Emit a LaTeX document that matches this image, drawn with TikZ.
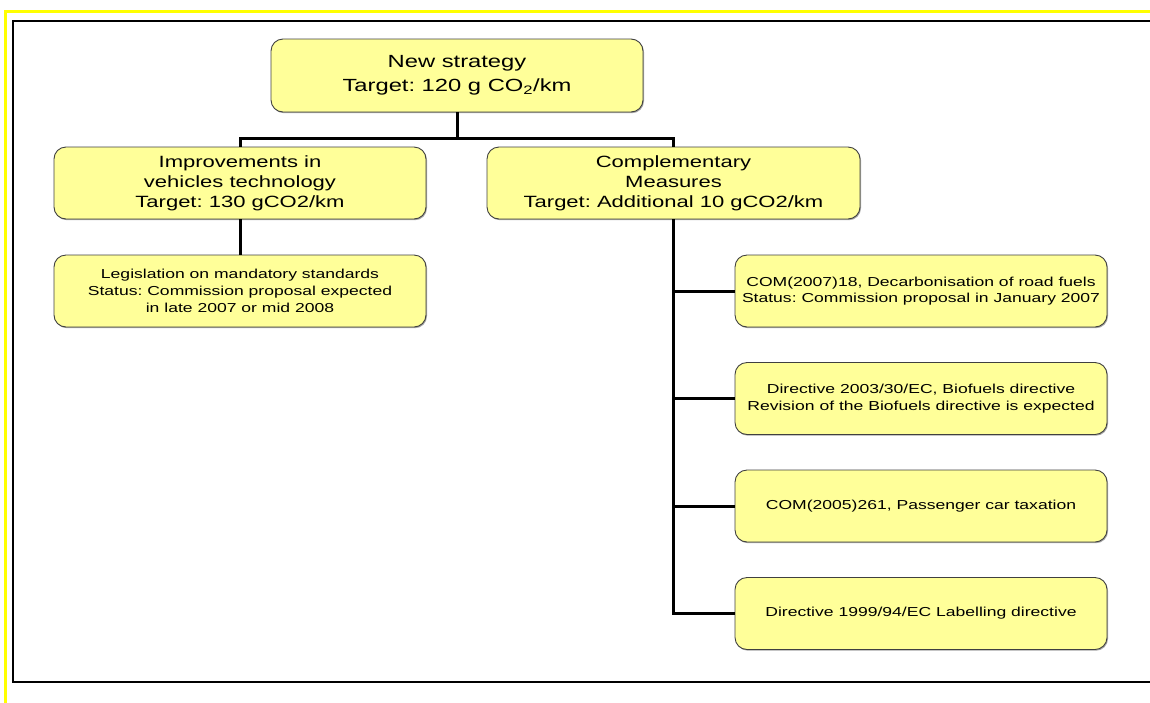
\documentclass[tikz,border=0pt]{standalone}
\usepackage{fontspec}
\setmainfont[FakeStretch=1.35]{Liberation Sans}
\usetikzlibrary{shadows}
\frenchspacing
\definecolor{boxfill}{HTML}{FFFF99}
\definecolor{boxline}{HTML}{404040}
\definecolor{frameyellow}{HTML}{FFFF00}
\tikzset{
  ybox/.style={draw=boxline, line width=0.9pt, fill=boxfill, rounded corners=12pt,
    minimum width=372pt, minimum height=72pt, align=center, inner sep=2pt,
    drop shadow={shadow xshift=1pt, shadow yshift=-1.2pt, fill=black, opacity=0.35}},
  bigtxt/.style={font=\fontsize{17.6}{23.5}\selectfont},
  midtxt/.style={font=\fontsize{16.3}{20}\selectfont},
  smalltxt/.style={font=\fontsize{13}{16.7}\selectfont},
  conn/.style={draw=black, line width=3pt},
}
\begin{document}
\begin{tikzpicture}[x=1pt,y=1pt]
\useasboundingbox (0,0) rectangle (1150,-702);
% outer frames
\draw[frameyellow, line width=3pt] (1152,-11.5) -- (5.5,-11.5) -- (5.5,-704);
\draw[black, line width=2.8pt] (1152,-21) -- (13,-21) -- (13,-682) -- (1152,-682);
% nodes
\node[ybox, bigtxt, minimum width=372pt, minimum height=73pt] (top) at (457,-75.5) {New strategy\\Target: 120 g CO\textsubscript{2}/km};
\node[ybox, midtxt] (imp) at (240,-183) {Improvements in\\vehicles technology\\Target: 130 gCO2/km};
\node[ybox, midtxt, minimum width=373pt] (comp) at (673.5,-183) {Complementary\\Measures\\Target: Additional 10 gCO2/km};
\node[ybox, smalltxt] (leg) at (240,-291) {Legislation on mandatory standards\\Status: Commission proposal expected\\in late 2007 or mid 2008};
\node[ybox, smalltxt] (r1) at (921,-291) {COM(2007)18, Decarbonisation of road fuels\\Status: Commission proposal in January 2007};
\node[ybox, smalltxt] (r2) at (921,-398.5) {Directive 2003/30/EC, Biofuels directive\\Revision of the Biofuels directive is expected};
\node[ybox, smalltxt] (r3) at (921,-506) {COM(2005)261, Passenger car taxation};
\node[ybox, smalltxt] (r4) at (921,-613.5) {Directive 1999/94/EC Labelling directive};
\coordinate (j) at (457,-138);
% connectors
\draw[conn] (top.south) -- (j);
\draw[conn] (imp.north) |- (j) -| (comp.north);
\draw[conn] (imp.south) -- (leg.north);
\draw[conn] (comp.south) |- (r4.west);
\draw[conn] (comp.south |- r1.west) -- (r1.west);
\draw[conn] (comp.south |- r2.west) -- (r2.west);
\draw[conn] (comp.south |- r3.west) -- (r3.west);
\end{tikzpicture}
\end{document}
